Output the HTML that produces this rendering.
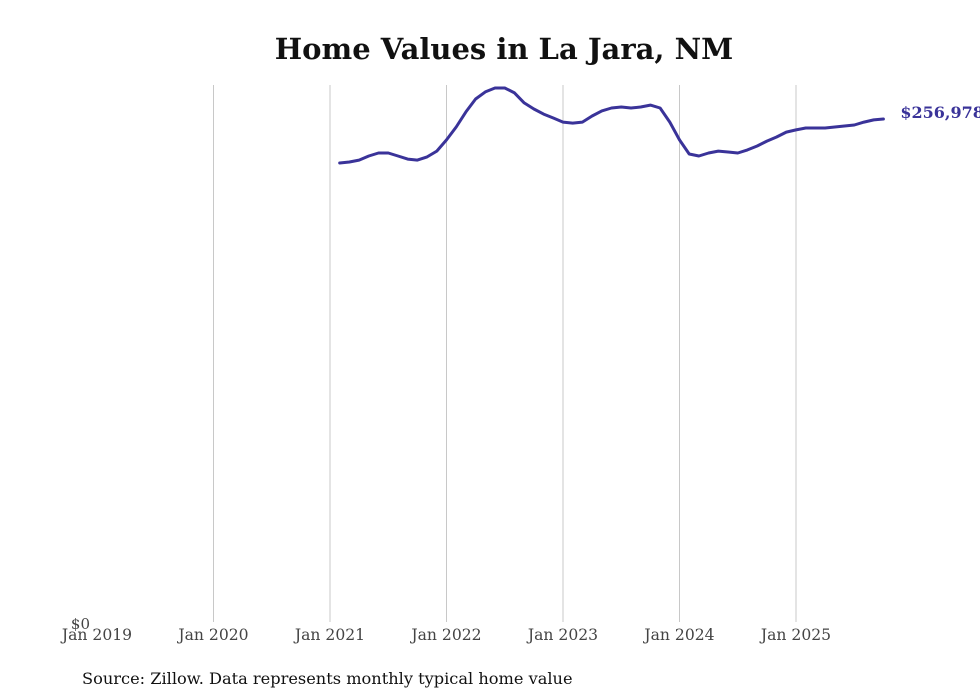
<!DOCTYPE html>
<html><head><meta charset="utf-8"><style>
body{margin:0;background:#fff;}
svg{display:block;font-family:"DejaVu Serif","Liberation Serif",serif;}
</style></head><body>
<svg id="chart" width="980" height="699" viewBox="0 0 980 699">
<text x="504" y="59" text-anchor="middle" font-size="29" font-weight="bold" fill="#111">Home Values in La Jara, NM</text>
<g id="grid"></g>
<g id="xticks"></g>
<text x="90" y="629" text-anchor="end" font-size="15" fill="#444">$0</text>
<path id="line" fill="none" stroke="#3a3399" stroke-width="3" stroke-linejoin="round" stroke-linecap="round"/>
<text id="endlabel" font-size="16" font-weight="bold" fill="#3a3399"></text>
<text x="82" y="684" font-size="16.2" fill="#111">Source: Zillow. Data represents monthly typical home value</text>
</svg>
<script>
const tickLabels=["Jan 2019","Jan 2020","Jan 2021","Jan 2022","Jan 2023","Jan 2024","Jan 2025"];
const startMonth=25; // months since Jan 2019 (Feb 2021)
const values=[234500,235000,236000,238100,239600,239600,238100,236500,236000,237600,240600,246300,252900,260600,267200,270800,272800,272800,270300,265200,262100,259500,257500,255400,254900,255400,258500,261100,262600,263100,262600,263100,264100,262600,255400,246300,239100,238100,239600,240600,240100,239600,241200,243200,245700,247800,250300,251400,252400,252400,252400,252900,253400,253900,255400,256500,256978];
const yMax=274350;
const ns="http://www.w3.org/2000/svg";
const x=m=>97+m*(699/72);
const y=v=>622-v/yMax*537;
const grid=document.getElementById('grid'),xt=document.getElementById('xticks');
tickLabels.forEach((t,i)=>{
  const X=x(i*12);
  if(i>0){const l=document.createElementNS(ns,'line');
  
  
  l.setAttribute('x1',X);l.setAttribute('x2',X);l.setAttribute('y1',85);l.setAttribute('y2',622);
  l.setAttribute('stroke','#c8c8c8');l.setAttribute('stroke-width','1');grid.appendChild(l);}
  const tx=document.createElementNS(ns,'text');
  
  
  tx.setAttribute('x',X);tx.setAttribute('y',640);tx.setAttribute('text-anchor','middle');
  tx.setAttribute('font-size','15.6');tx.setAttribute('fill','#444');tx.textContent=t;xt.appendChild(tx);
});
let d='';values.forEach((v,i)=>{d+=(i?'L':'M')+x(startMonth+i).toFixed(1)+' '+y(v).toFixed(1);});
document.getElementById('line').setAttribute('d',d);
const last=values[values.length-1],el=document.getElementById('endlabel');
el.setAttribute('x',x(startMonth+values.length-1)+17);el.setAttribute('y',y(last)-1);
el.textContent='$'+last.toLocaleString('en-US');
</script>
</body></html>
